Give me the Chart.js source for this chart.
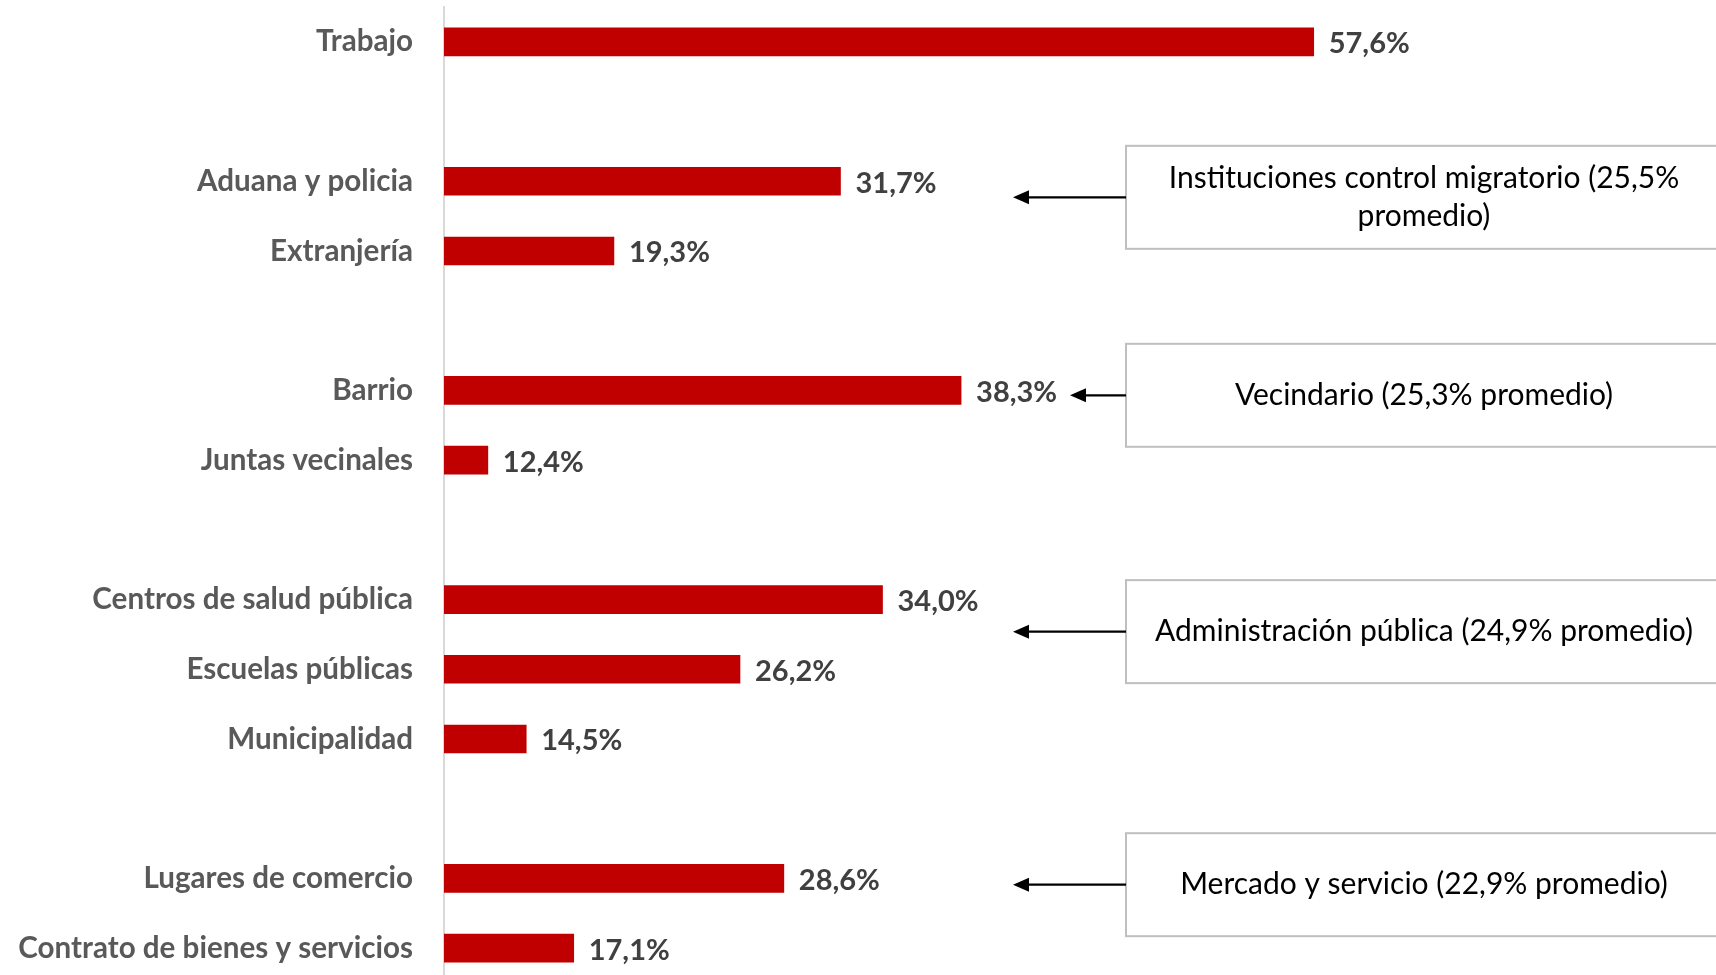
<!DOCTYPE html>
<html>
<head>
<meta charset="utf-8">
<script src="https://cdn.jsdelivr.net/npm/chart.js@4/dist/chart.umd.min.js"></script>
<style>
  html, body { margin: 0; padding: 0; background: #fff; overflow: hidden; }
  #wrap { position: relative; width: 1724px; height: 990px; }
</style>
</head>
<body>
<div id="wrap"><canvas id="chart"></canvas></div>
<script>
// categories (empty strings are the gaps between groups)
const categories = [
  'Trabajo', '',
  'Aduana y policia', 'Extranjería', '',
  'Barrio', 'Juntas vecinales', '',
  'Centros de salud pública', 'Escuelas públicas', 'Municipalidad', '',
  'Lugares de comercio', 'Contrato de bienes y servicios'
];
const values = [57.6, null, 31.7, 19.3, null, 38.3, 12.4, null, 34.0, 26.2, 14.5, null, 28.6, 17.1];
const axisMin = 10;
const axisMax = 80;

const noteTexts = [
  ['Instituciones control migratorio (25,5%', 'promedio)'],
  ['Vecindario (25,3% promedio)'],
  ['Administración pública (24,9% promedio)'],
  ['Mercado y servicio (22,9% promedio)']
];

function fmt(v) {
  return v.toFixed(1).replace('.', ',') + '%';
}

// value labels to the right of each bar
const barLabels = {
  id: 'barLabels',
  afterDatasetsDraw(chart) {
    const ctx = chart.ctx;
    const meta = chart.getDatasetMeta(0);
    ctx.save();
    ctx.font = 'bold 29px Lato';
    ctx.fillStyle = '#404040';
    ctx.textAlign = 'left';
    ctx.textBaseline = 'middle';
    meta.data.forEach((bar, i) => {
      const v = values[i];
      if (v == null) return;
      ctx.fillText(fmt(v), bar.x + 15, bar.y + 2);
    });
    ctx.restore();
  }
};

// boxes with arrows pointing at each group
const notes = {
  id: 'notes',
  afterDraw(chart) {
    const ctx = chart.ctx;
    const y = chart.scales.y;
    const place = [
      { at: 2.23, tip: 1013 },
      { at: 5.07, tip: 1070 },
      { at: 8.46, tip: 1013 },
      { at: 12.09, tip: 1013 }
    ];
    const left = 1126, right = 1722, h = 103;
    ctx.save();
    noteTexts.forEach((lines, i) => {
      const yc = y.getPixelForValue(place[i].at);
      ctx.fillStyle = '#fff';
      ctx.fillRect(left, yc - h / 2, right - left, h);
      ctx.strokeStyle = '#bfbfbf';
      ctx.lineWidth = 2;
      ctx.strokeRect(left, yc - h / 2, right - left, h);

      ctx.fillStyle = '#000';
      ctx.font = '30px Lato';
      ctx.textAlign = 'center';
      ctx.textBaseline = 'middle';
      const lh = 38.5;
      lines.forEach((t, k) => {
        ctx.fillText(t, (left + right) / 2, yc + (k - (lines.length - 1) / 2) * lh);
      });

      // arrow
      const tip = place[i].tip;
      ctx.strokeStyle = '#000';
      ctx.lineWidth = 2.3;
      ctx.beginPath();
      ctx.moveTo(left, yc);
      ctx.lineTo(tip + 10, yc);
      ctx.stroke();
      ctx.beginPath();
      ctx.moveTo(tip, yc);
      ctx.lineTo(tip + 16, yc - 7);
      ctx.lineTo(tip + 16, yc + 7);
      ctx.closePath();
      ctx.fill();
    });
    ctx.restore();
  }
};

new Chart(document.getElementById('chart'), {
  type: 'bar',
  data: {
    labels: categories,
    datasets: [{
      data: values,
      backgroundColor: '#c00000',
      barThickness: 28
    }]
  },
  options: {
    indexAxis: 'y',
    responsive: true,
    maintainAspectRatio: false,
    animation: false,
    layout: { padding: { top: 7, bottom: 7, left: 0, right: 1 } },
    plugins: {
      legend: { display: false },
      tooltip: { enabled: false }
    },
    scales: {
      x: {
        display: false,
        min: axisMin,
        max: axisMax
      },
      y: {
        afterFit(scale) {
          scale.width = 444;
          scale.paddingTop = 0;
          scale.paddingBottom = 0;
        },
        grid: { display: false, drawTicks: false },
        border: { display: true, color: '#d9d9d9', width: 2 },
        ticks: {
          padding: 31,
          color: '#595959',
          font: { family: 'Lato', size: 29.6, weight: 'bold' }
        }
      }
    }
  },
  plugins: [barLabels, notes]
});
</script>
</body>
</html>
